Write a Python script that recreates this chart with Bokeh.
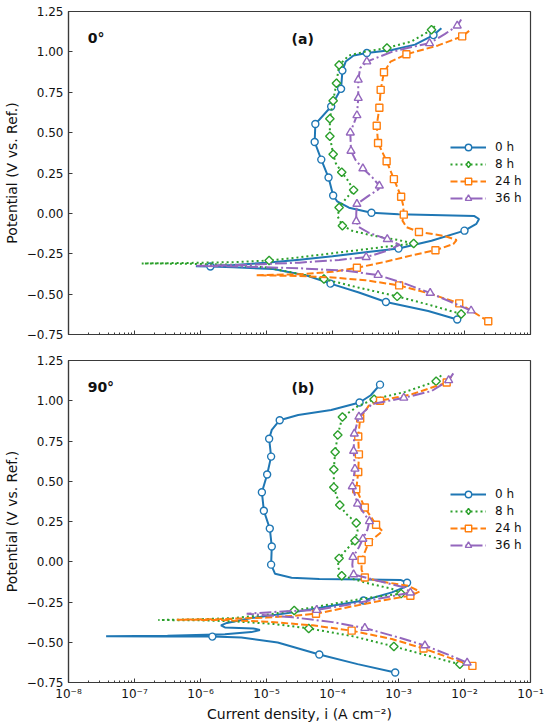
import math
from bokeh.plotting import figure
from bokeh.layouts import column
from bokeh.models import (Range1d, FixedTicker, CustomJSTickFormatter, Legend,
                          LegendItem, Label)
from bokeh.embed import file_html
from bokeh.resources import INLINE

# ---------------- data: (log10 current density [A cm^-2], potential [V]) ----------------
series_labels = ["0 h", "8 h", "24 h", "36 h"]

# panel (a) 0 deg
a_0h_line = [(-2.11,-0.657),(-2.55,-0.605),(-3.19,-0.549),(-3.60,-0.490),(-4.03,-0.435),(-4.38,-0.386),
             (-4.90,-0.345),(-5.50,-0.333),(-5.85,-0.329),(-6.07,-0.327),(-5.50,-0.319),(-5.00,-0.306),
             (-4.50,-0.287),(-4.00,-0.266),(-3.50,-0.241),(-3.00,-0.218),(-2.50,-0.170),(-2.00,-0.107),
             (-1.82,-0.065),(-1.78,-0.035),(-1.85,-0.017),(-2.50,-0.010),(-3.00,-0.005),(-3.41,0.004),
             (-3.75,0.035),(-3.93,0.075),(-3.99,0.111),(-4.06,0.222),(-4.17,0.333),(-4.27,0.442),
             (-4.26,0.553),(-4.02,0.662),(-3.87,0.771),(-3.85,0.884),(-3.80,0.940),(-3.68,0.978),
             (-3.48,0.993),(-3.10,1.012),(-2.75,1.045),(-2.47,1.104),(-2.35,1.147)]
a_0h_marks = [(-2.47,1.104),(-3.48,0.993),(-3.85,0.884),(-3.87,0.771),(-4.02,0.662),(-4.26,0.553),
              (-4.27,0.442),(-4.17,0.333),(-4.06,0.222),(-3.99,0.111),(-3.41,0.004),(-2.00,-0.107),
              (-3.00,-0.218),(-5.85,-0.329),(-4.03,-0.435),(-3.19,-0.549),(-2.11,-0.657)]

a_8h_line = [(-2.05,-0.623),(-2.50,-0.570),(-3.02,-0.514),(-3.60,-0.460),(-4.13,-0.407),(-4.50,-0.375),
             (-5.00,-0.335),(-5.50,-0.318),(-6.20,-0.312),(-6.89,-0.310),(-6.20,-0.307),(-5.50,-0.302),
             (-4.96,-0.292),(-4.50,-0.272),(-4.00,-0.247),(-3.50,-0.222),(-3.00,-0.197),(-2.77,-0.187),
             (-3.00,-0.165),(-3.40,-0.137),(-3.70,-0.108),(-3.85,-0.076),(-3.92,-0.020),(-3.90,0.037),
             (-3.80,0.090),(-3.68,0.144),(-3.76,0.200),(-3.86,0.255),(-3.95,0.310),(-3.99,0.366),
             (-4.04,0.477),(-4.04,0.586),(-3.99,0.697),(-3.94,0.806),(-3.90,0.919),(-3.75,0.978),
             (-3.50,1.002),(-3.175,1.024),(-2.80,1.065),(-2.50,1.137),(-2.43,1.168)]
a_8h_marks = [(-2.50,1.137),(-3.175,1.024),(-3.90,0.919),(-3.94,0.806),(-3.99,0.697),(-4.04,0.586),
              (-4.04,0.477),(-3.99,0.366),(-3.86,0.255),(-3.68,0.144),(-3.90,0.037),(-3.85,-0.076),
              (-2.77,-0.187),(-4.96,-0.292),(-4.13,-0.407),(-3.02,-0.514),(-2.05,-0.623)]

a_24h_line = [(-1.64,-0.668),(-1.85,-0.615),(-2.08,-0.557),(-2.50,-0.500),(-2.99,-0.446),(-3.50,-0.414),
              (-4.00,-0.397),(-4.50,-0.388),(-5.15,-0.383),(-4.50,-0.377),(-4.00,-0.362),(-3.63,-0.337),
              (-3.20,-0.300),(-2.80,-0.260),(-2.44,-0.228),(-2.17,-0.190),(-2.12,-0.165),(-2.30,-0.140),
              (-2.69,-0.115),(-2.88,-0.085),(-2.94,-0.045),(-2.92,-0.008),(-2.93,0.050),(-2.96,0.103),
              (-3.07,0.212),(-3.18,0.323),(-3.31,0.436),(-3.33,0.543),(-3.29,0.654),(-3.27,0.765),
              (-3.22,0.874),(-3.12,0.940),(-2.88,0.985),(-2.40,1.040),(-2.035,1.096),(-1.93,1.130)]
a_24h_marks = [(-2.035,1.096),(-2.88,0.985),(-3.22,0.874),(-3.27,0.765),(-3.29,0.654),(-3.33,0.543),
               (-3.31,0.436),(-3.18,0.323),(-3.07,0.212),(-2.96,0.103),(-2.92,-0.008),(-2.69,-0.115),
               (-2.44,-0.228),(-3.63,-0.337),(-2.99,-0.446),(-2.08,-0.557),(-1.64,-0.668)]

a_36h_line = [(-1.90,-0.602),(-2.20,-0.550),(-2.52,-0.493),(-2.90,-0.435),(-3.31,-0.382),(-3.80,-0.355),
              (-4.50,-0.340),(-5.30,-0.330),(-6.06,-0.325),(-5.30,-0.318),(-4.50,-0.305),(-3.90,-0.288),
              (-3.49,-0.271),(-3.20,-0.235),(-2.98,-0.195),(-3.17,-0.160),(-3.45,-0.120),(-3.60,-0.085),
              (-3.64,-0.049),(-3.64,0.000),(-3.63,0.058),(-3.45,0.110),(-3.30,0.150),(-3.29,0.171),
              (-3.40,0.225),(-3.54,0.278),(-3.65,0.330),(-3.72,0.387),(-3.73,0.500),(-3.63,0.607),
              (-3.61,0.714),(-3.61,0.827),(-3.58,0.900),(-3.48,0.940),(-3.10,1.000),(-2.80,1.030),
              (-2.53,1.053),(-2.30,1.110),(-2.11,1.162),(-2.05,1.200)]
a_36h_marks = [(-2.11,1.162),(-2.53,1.053),(-3.48,0.940),(-3.61,0.827),(-3.61,0.714),(-3.63,0.607),
               (-3.73,0.500),(-3.72,0.387),(-3.54,0.278),(-3.29,0.171),(-3.63,0.058),(-3.64,-0.049),
               (-3.17,-0.160),(-3.49,-0.271),(-3.31,-0.382),(-2.52,-0.493),(-1.90,-0.602)]

# panel (b) 90 deg
b_0h_line = [(-3.05,-0.688),(-3.62,-0.636),(-4.20,-0.576),(-4.83,-0.502),(-5.38,-0.471),(-5.82,-0.465),
             (-6.60,-0.464),(-7.43,-0.463),(-6.50,-0.459),(-5.63,-0.451),(-5.23,-0.437),(-5.10,-0.424),
             (-5.20,-0.414),(-5.63,-0.408),(-5.69,-0.395),(-5.60,-0.380),(-5.23,-0.350),(-4.62,-0.316),
             (-4.12,-0.281),(-3.53,-0.241),(-3.10,-0.190),(-2.86,-0.150),(-2.87,-0.130),(-2.97,-0.113),
             (-3.50,-0.110),(-4.20,-0.107),(-4.62,-0.099),(-4.87,-0.075),(-4.93,-0.018),(-4.92,0.095),
             (-4.95,0.206),(-5.04,0.317),(-5.07,0.432),(-4.99,0.542),(-4.93,0.653),(-4.96,0.764),
             (-4.92,0.819),(-4.80,0.879),(-4.52,0.911),(-4.02,0.942),(-3.59,0.989),(-3.42,1.034),
             (-3.28,1.100)]
b_0h_marks = [(-3.28,1.100),(-3.59,0.989),(-4.80,0.879),(-4.96,0.764),(-4.93,0.653),(-4.99,0.542),
              (-5.07,0.432),(-5.04,0.317),(-4.95,0.206),(-4.92,0.095),(-4.93,-0.018),(-2.87,-0.130),
              (-3.53,-0.241),(-5.82,-0.465),(-4.20,-0.576),(-3.05,-0.688)]

b_8h_line = [(-2.07,-0.637),(-2.50,-0.590),(-3.07,-0.526),(-3.70,-0.462),(-4.36,-0.414),(-4.90,-0.386),
             (-5.50,-0.370),(-6.00,-0.364),(-6.64,-0.362),(-6.00,-0.357),(-5.50,-0.350),(-5.00,-0.330),
             (-4.58,-0.303),(-4.00,-0.262),(-3.50,-0.226),(-2.96,-0.198),(-3.10,-0.168),(-3.45,-0.135),
             (-3.86,-0.087),(-3.92,-0.030),(-3.90,0.021),(-3.78,0.080),(-3.66,0.130),(-3.62,0.190),
             (-3.64,0.241),(-3.80,0.300),(-3.89,0.352),(-3.98,0.462),(-3.98,0.573),(-3.96,0.682),
             (-3.92,0.788),(-3.85,0.899),(-3.62,0.965),(-3.37,1.010),(-2.90,1.055),(-2.43,1.121),
             (-2.35,1.160)]
b_8h_marks = [(-2.43,1.121),(-3.37,1.010),(-3.85,0.899),(-3.92,0.788),(-3.96,0.682),(-3.98,0.573),
              (-3.98,0.462),(-3.89,0.352),(-3.64,0.241),(-3.66,0.130),(-3.90,0.021),(-3.86,-0.087),
              (-2.96,-0.198),(-4.58,-0.303),(-4.36,-0.414),(-3.07,-0.526),(-2.07,-0.637)]

b_24h_line = [(-1.88,-0.647),(-2.20,-0.600),(-2.62,-0.539),(-3.10,-0.480),(-3.71,-0.428),(-4.30,-0.395),
              (-5.00,-0.372),(-5.70,-0.362),(-6.36,-0.360),(-5.70,-0.356),(-5.00,-0.347),(-4.60,-0.336),
              (-4.25,-0.323),(-3.70,-0.277),(-3.20,-0.237),(-2.82,-0.211),(-2.68,-0.185),(-2.85,-0.150),
              (-3.30,-0.120),(-3.51,-0.098),(-3.56,-0.050),(-3.56,0.011),(-3.50,0.070),(-3.45,0.122),
              (-3.24,0.190),(-3.34,0.230),(-3.51,0.337),(-3.64,0.450),(-3.61,0.557),(-3.60,0.667),
              (-3.61,0.778),(-3.58,0.889),(-3.45,0.970),(-3.28,1.000),(-2.80,1.040),(-2.27,1.113),
              (-2.20,1.150)]
b_24h_marks = [(-2.27,1.113),(-3.28,1.000),(-3.58,0.889),(-3.61,0.778),(-3.60,0.667),(-3.61,0.557),
               (-3.64,0.450),(-3.51,0.337),(-3.34,0.230),(-3.45,0.122),(-3.56,0.011),(-3.51,-0.098),
               (-2.82,-0.211),(-4.25,-0.323),(-3.71,-0.428),(-2.62,-0.539),(-1.88,-0.647)]

b_36h_line = [(-1.96,-0.627),(-2.20,-0.585),(-2.60,-0.520),(-3.00,-0.470),(-3.51,-0.412),(-4.00,-0.375),
              (-4.60,-0.345),(-5.30,-0.323),(-4.70,-0.307),(-4.24,-0.300),(-3.70,-0.262),(-3.20,-0.222),
              (-2.82,-0.192),(-2.90,-0.160),(-3.30,-0.120),(-3.68,-0.079),(-3.70,-0.020),(-3.69,0.029),
              (-3.60,0.090),(-3.54,0.142),(-3.47,0.200),(-3.44,0.251),(-3.62,0.360),(-3.70,0.468),
              (-3.66,0.577),(-3.68,0.688),(-3.67,0.795),(-3.60,0.901),(-3.40,0.980),(-2.92,1.018),
              (-2.50,1.060),(-2.24,1.127),(-2.17,1.170)]
b_36h_marks = [(-2.24,1.127),(-2.92,1.018),(-3.60,0.901),(-3.67,0.795),(-3.68,0.688),(-3.66,0.577),
               (-3.70,0.468),(-3.62,0.360),(-3.44,0.251),(-3.54,0.142),(-3.69,0.029),(-3.68,-0.079),
               (-2.82,-0.192),(-4.24,-0.300),(-3.51,-0.412),(-2.60,-0.520),(-1.96,-0.627)]

x_major_ticks = [1e-8, 1e-7, 1e-6, 1e-5, 1e-4, 1e-3, 1e-2, 1e-1]
y_major_ticks = [-0.75, -0.50, -0.25, 0.00, 0.25, 0.50, 0.75, 1.00, 1.25]

# ---------------- styles ----------------
FONT = "DejaVu Sans"
TXT = "#111111"
colors = ["#1f77b4", "#2ca02c", "#ff7f0e", "#9467bd"]
dashes = ["solid", "2 3", "7 3", "12 3 2 3"]
markers = ["circle", "square", "square", "triangle"]
legend_markers = ["circle", "diamond", "square", "triangle"]
msizes = [7, 6, 7, 8]
mangles = [0, math.pi / 4, 0, 0]
FRAME = "#3a3a3a"

minor = [k * d for d in x_major_ticks[:-1] for k in range(2, 10)]

x_fmt = CustomJSTickFormatter(code="""
const sup = {"-": "\\u207b", "0": "\\u2070", "1": "\\u00b9", "2": "\\u00b2", "3": "\\u00b3",
             "4": "\\u2074", "5": "\\u2075", "6": "\\u2076", "7": "\\u2077", "8": "\\u2078", "9": "\\u2079"};
const e = Math.round(Math.log10(tick));
return "10" + String(e).split("").map(c => sup[c]).join("");
""")
y_fmt = CustomJSTickFormatter(code="""
return (tick < 0 ? "\\u2212" : "") + Math.abs(tick).toFixed(2);
""")

FIG_W = 548


def make_fig(height, top, bottom, show_xlabels):
    p = figure(width=FIG_W, height=height, x_axis_type="log",
               x_range=Range1d(1e-8, 1e-1), y_range=Range1d(-0.75, 1.25),
               output_backend="svg", toolbar_location=None,
               min_border_left=67, min_border_right=FIG_W - 67 - 463,
               min_border_top=top, min_border_bottom=bottom)
    p.xgrid.visible = False
    p.ygrid.visible = False
    p.outline_line_color = FRAME
    p.outline_line_width = 1.2
    p.background_fill_color = "white"
    p.border_fill_color = "white"

    xa = p.xaxis[0]
    xa.ticker = FixedTicker(ticks=x_major_ticks, minor_ticks=minor)
    xa.formatter = x_fmt
    xa.axis_line_color = FRAME
    xa.axis_line_width = 1.2
    xa.major_tick_in = 4
    xa.major_tick_out = 0
    xa.minor_tick_in = 2
    xa.minor_tick_out = 0
    xa.major_tick_line_color = FRAME
    xa.minor_tick_line_color = FRAME
    xa.major_label_text_font = FONT
    if show_xlabels:
        xa.major_label_text_font_size = "12px"
        xa.major_label_text_color = TXT
        xa.major_label_standoff = 4
        xa.axis_label = "Current density, i (A cm\u207b\u00b2)"
        xa.axis_label_text_font = FONT
        xa.axis_label_text_font_size = "14px"
        xa.axis_label_text_font_style = "normal"
        xa.axis_label_text_color = TXT
        xa.axis_label_standoff = 2
    else:
        xa.major_label_text_color = None
        xa.major_label_standoff = 0

    ya = p.yaxis[0]
    ya.ticker = FixedTicker(ticks=y_major_ticks, minor_ticks=[])
    ya.formatter = y_fmt
    ya.axis_line_color = FRAME
    ya.axis_line_width = 1.2
    ya.major_tick_in = 4
    ya.major_tick_out = 0
    ya.minor_tick_line_color = None
    ya.major_tick_line_color = FRAME
    ya.major_label_text_font = FONT
    ya.major_label_text_font_size = "12px"
    ya.major_label_text_color = TXT
    ya.major_label_standoff = 5
    ya.axis_label = "Potential (V vs. Ref.)"
    ya.axis_label_text_font = FONT
    ya.axis_label_text_font_size = "14px"
    ya.axis_label_text_font_style = "normal"
    ya.axis_label_text_color = TXT
    ya.axis_label_standoff = 4
    return p


def draw(p, series, legend_loc, angle_text, panel_text):
    items = []
    for i, (line_pts, mark_pts) in enumerate(series):
        lx = [10 ** a for a, b in line_pts]
        ly = [b for a, b in line_pts]
        mx = [10 ** a for a, b in mark_pts]
        my = [b for a, b in mark_pts]
        r1 = p.line(lx, ly, line_color=colors[i], line_width=2, line_dash=dashes[i])
        r2 = p.scatter(mx, my, marker=markers[i], size=msizes[i], angle=mangles[i],
                       fill_color="white", line_color=colors[i], line_width=1.4)
        rend = [r1, r2]
        if legend_markers[i] != markers[i]:
            # legend-only proxy (legend glyphs are drawn unrotated)
            r3 = p.scatter([float("nan")], [float("nan")], marker=legend_markers[i], size=msizes[i],
                           fill_color="white", line_color=colors[i], line_width=1.4)
            rend = [r1, r3]
        items.append(LegendItem(label=series_labels[i], renderers=rend))
    leg = Legend(items=items, location=legend_loc, glyph_width=36, glyph_height=16,
                 label_height=16, spacing=1, label_standoff=9, padding=0, margin=0,
                 label_text_font=FONT, label_text_font_size="12px",
                 label_text_color=TXT, border_line_color=None,
                 background_fill_alpha=0)
    p.add_layout(leg)
    p.add_layout(Label(x=10 ** -7.71, y=1.083, text=angle_text, text_font=FONT,
                       text_font_style="bold", text_font_size="14px",
                       text_baseline="middle", text_align="left", text_color=TXT))
    p.add_layout(Label(x=10 ** -4.62, y=1.078, text=panel_text, text_font=FONT,
                       text_font_style="bold", text_font_size="14px",
                       text_baseline="middle", text_align="left", text_color=TXT))


p1 = make_fig(346, 11, 12, False)
draw(p1, [(a_0h_line, a_0h_marks), (a_8h_line, a_8h_marks),
          (a_24h_line, a_24h_marks), (a_36h_line, a_36h_marks)],
     (382, 128), "0°", "(a)")

p2 = make_fig(378, 14, 40, True)
draw(p2, [(b_0h_line, b_0h_marks), (b_8h_line, b_8h_marks),
          (b_24h_line, b_24h_marks), (b_36h_line, b_36h_marks)],
     (382, 129), "90°", "(b)")

layout = column(p1, p2, spacing=0)
open("out.html", "w").write(file_html(layout, INLINE))
